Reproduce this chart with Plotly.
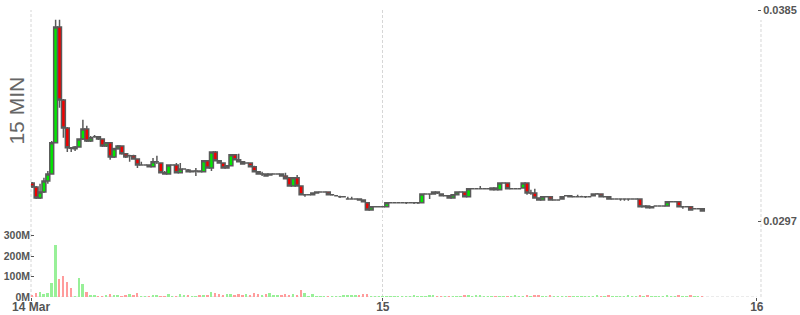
import pandas as pd
import plotly.graph_objects as go

# ---- data (15-minute candles, 14 Mar 01:30 onward) ----
start_time = "2024-03-14 01:30"
n_candles = 173

open_ = [0.03129,0.03112,0.03066,0.03091,0.03137,0.03166,0.03296,0.03779,0.03475,0.03358,
         0.03275,0.03271,0.03279,0.03312,0.03354,0.03304,0.03321,0.03321,0.03312,0.03283,
         0.03296,0.03237,0.03271,0.03283,0.03250,0.03242,0.03242,0.03229,0.03204,0.03204,
         0.03204,0.03196,0.03217,0.03212,0.03171,0.03166,0.03204,0.03204,0.03171,0.03187,
         0.03183,0.03175,0.03179,0.03179,0.03175,0.03221,0.03191,0.03258,0.03221,0.03212,
         0.03191,0.03200,0.03246,0.03225,0.03217,0.03212,0.03212,0.03196,0.03175,0.03166,
         0.03166,0.03162,0.03166,0.03166,0.03166,0.03158,0.03150,0.03116,0.03150,0.03116,
         0.03079,0.03079,0.03079,0.03087,0.03091,0.03091,0.03091,0.03079,0.03075,0.03071,
         0.03071,0.03062,0.03062,0.03062,0.03062,0.03058,0.03046,0.03016,0.03029,0.03029,
         0.03029,0.03029,0.03046,0.03046,0.03046,0.03046,0.03046,0.03046,0.03046,0.03046,
         0.03046,0.03083,0.03083,0.03083,0.03091,0.03083,0.03075,0.03075,0.03066,0.03079,
         0.03091,0.03091,0.03071,0.03104,0.03104,0.03104,0.03104,0.03104,0.03100,0.03108,
         0.03100,0.03129,0.03129,0.03104,0.03104,0.03104,0.03108,0.03129,0.03087,0.03087,
         0.03066,0.03058,0.03071,0.03071,0.03058,0.03058,0.03062,0.03075,0.03075,0.03071,
         0.03071,0.03071,0.03071,0.03071,0.03075,0.03083,0.03083,0.03071,0.03071,0.03062,
         0.03062,0.03062,0.03062,0.03062,0.03062,0.03062,0.03062,0.03029,0.03033,0.03025,
         0.03033,0.03033,0.03033,0.03033,0.03050,0.03050,0.03050,0.03029,0.03029,0.03029,
         0.03021,0.03021,0.03021]
high = [0.03133,0.03116,0.03125,0.03150,0.03179,0.03304,0.03809,0.03809,0.03479,0.03362,
        0.03279,0.03283,0.03312,0.03392,0.03367,0.03325,0.03329,0.03325,0.03312,0.03300,
        0.03296,0.03275,0.03287,0.03283,0.03250,0.03246,0.03246,0.03229,0.03217,0.03204,
        0.03204,0.03233,0.03242,0.03212,0.03179,0.03204,0.03204,0.03212,0.03212,0.03187,
        0.03187,0.03179,0.03191,0.03179,0.03221,0.03221,0.03258,0.03262,0.03221,0.03212,
        0.03204,0.03246,0.03246,0.03250,0.03217,0.03212,0.03212,0.03200,0.03175,0.03175,
        0.03166,0.03166,0.03166,0.03166,0.03166,0.03171,0.03150,0.03150,0.03162,0.03116,
        0.03079,0.03079,0.03087,0.03091,0.03091,0.03091,0.03091,0.03083,0.03075,0.03075,
        0.03071,0.03071,0.03071,0.03062,0.03062,0.03058,0.03046,0.03033,0.03029,0.03029,
        0.03029,0.03046,0.03046,0.03046,0.03046,0.03046,0.03046,0.03046,0.03046,0.03046,
        0.03083,0.03083,0.03083,0.03091,0.03091,0.03083,0.03075,0.03075,0.03079,0.03091,
        0.03091,0.03091,0.03104,0.03104,0.03104,0.03116,0.03104,0.03104,0.03108,0.03108,
        0.03129,0.03129,0.03129,0.03104,0.03108,0.03104,0.03129,0.03129,0.03100,0.03104,
        0.03066,0.03071,0.03071,0.03071,0.03058,0.03058,0.03071,0.03075,0.03075,0.03071,
        0.03079,0.03075,0.03071,0.03071,0.03083,0.03087,0.03083,0.03071,0.03071,0.03062,
        0.03062,0.03062,0.03062,0.03062,0.03062,0.03062,0.03062,0.03033,0.03033,0.03029,
        0.03033,0.03033,0.03033,0.03050,0.03050,0.03050,0.03050,0.03029,0.03029,0.03029,
        0.03021,0.03021,0.03021]
low = [0.03108,0.03062,0.03062,0.03087,0.03125,0.03166,0.03296,0.03442,0.03317,0.03258,
       0.03258,0.03262,0.03275,0.03308,0.03300,0.03300,0.03317,0.03308,0.03279,0.03279,
       0.03225,0.03233,0.03267,0.03246,0.03233,0.03217,0.03225,0.03191,0.03204,0.03204,
       0.03196,0.03196,0.03208,0.03171,0.03166,0.03166,0.03204,0.03171,0.03171,0.03187,
       0.03175,0.03175,0.03158,0.03175,0.03175,0.03191,0.03179,0.03221,0.03212,0.03191,
       0.03191,0.03200,0.03225,0.03217,0.03208,0.03212,0.03196,0.03175,0.03166,0.03158,
       0.03158,0.03162,0.03166,0.03166,0.03158,0.03146,0.03116,0.03116,0.03116,0.03079,
       0.03071,0.03079,0.03079,0.03087,0.03091,0.03091,0.03079,0.03075,0.03075,0.03066,
       0.03071,0.03062,0.03062,0.03062,0.03058,0.03050,0.03016,0.03016,0.03029,0.03029,
       0.03029,0.03029,0.03046,0.03046,0.03046,0.03046,0.03041,0.03046,0.03041,0.03041,
       0.03046,0.03083,0.03062,0.03083,0.03083,0.03075,0.03075,0.03066,0.03066,0.03079,
       0.03091,0.03071,0.03071,0.03104,0.03104,0.03104,0.03104,0.03104,0.03100,0.03100,
       0.03100,0.03129,0.03104,0.03104,0.03104,0.03104,0.03108,0.03079,0.03079,0.03066,
       0.03058,0.03058,0.03071,0.03058,0.03058,0.03058,0.03062,0.03075,0.03071,0.03071,
       0.03071,0.03071,0.03066,0.03071,0.03075,0.03083,0.03071,0.03071,0.03062,0.03062,
       0.03062,0.03054,0.03054,0.03054,0.03062,0.03062,0.03029,0.03029,0.03025,0.03025,
       0.03033,0.03033,0.03033,0.03033,0.03050,0.03050,0.03029,0.03021,0.03029,0.03016,
       0.03021,0.03021,0.03012]
close = [0.03112,0.03066,0.03091,0.03137,0.03166,0.03296,0.03779,0.03475,0.03358,0.03275,
         0.03273,0.03279,0.03312,0.03354,0.03304,0.03317,0.03321,0.03312,0.03283,0.03296,
         0.03237,0.03271,0.03283,0.03250,0.03237,0.03242,0.03229,0.03204,0.03204,0.03204,
         0.03196,0.03217,0.03217,0.03171,0.03166,0.03204,0.03204,0.03171,0.03187,0.03187,
         0.03175,0.03179,0.03179,0.03175,0.03221,0.03191,0.03258,0.03221,0.03212,0.03191,
         0.03200,0.03246,0.03225,0.03217,0.03208,0.03212,0.03196,0.03175,0.03166,0.03166,
         0.03158,0.03166,0.03166,0.03166,0.03158,0.03146,0.03116,0.03150,0.03116,0.03079,
         0.03079,0.03079,0.03087,0.03091,0.03091,0.03091,0.03079,0.03079,0.03075,0.03071,
         0.03071,0.03062,0.03062,0.03062,0.03058,0.03050,0.03016,0.03029,0.03029,0.03029,
         0.03029,0.03046,0.03046,0.03046,0.03046,0.03046,0.03046,0.03046,0.03046,0.03046,
         0.03083,0.03083,0.03083,0.03091,0.03087,0.03075,0.03075,0.03066,0.03079,0.03091,
         0.03091,0.03071,0.03104,0.03104,0.03104,0.03104,0.03104,0.03104,0.03108,0.03100,
         0.03129,0.03129,0.03104,0.03104,0.03104,0.03104,0.03129,0.03087,0.03087,0.03066,
         0.03058,0.03071,0.03071,0.03058,0.03058,0.03058,0.03071,0.03075,0.03071,0.03071,
         0.03071,0.03071,0.03071,0.03071,0.03083,0.03083,0.03071,0.03071,0.03062,0.03062,
         0.03062,0.03062,0.03062,0.03062,0.03062,0.03062,0.03029,0.03033,0.03025,0.03029,
         0.03033,0.03033,0.03033,0.03050,0.03050,0.03050,0.03029,0.03029,0.03029,0.03016,
         0.03021,0.03021,0.03012]
volume_m = [5,20,24,13,20,68,253,86,101,73,44,3,91,62,23,5,6,3,3,5,
            12,8,8,4,8,12,8,17,4,4,4,8,8,4,4,12,4,4,12,8,
            8,4,4,8,8,8,23,18,13,5,13,13,5,13,8,13,9,18,13,8,
            13,18,8,8,8,13,8,13,8,33,18,2,13,2,1,1,2,1,1,2,
            8,8,5,8,5,13,13,3,1,1,4,2,1,1,1,3,1,1,8,4,
            4,4,8,8,4,4,1,1,1,1,1,8,8,1,8,8,4,1,4,4,
            1,1,4,1,8,1,4,8,4,8,8,4,4,8,4,4,4,4,4,4,
            4,4,4,1,4,8,4,3,5,3,2,4,3,5,2,3,6,4,5,4,
            2,4,3,5,3,2,5,3,2,5,3,2,4]

x_tick_vals = ["2024-03-14 01:25:30", "2024-03-15 00:00", "2024-03-16 00:00"]
x_tick_text = ["14 Mar", "15", "16"]
price_tick_vals = [0.0297, 0.0385]
price_tick_text = ["0.0297", "0.0385"]
vol_tick_vals = [0, 100e6, 200e6, 300e6]
vol_tick_text = ["0M", "100M", "200M", "300M"]

assert len(open_) == len(high) == len(low) == len(close) == len(volume_m) == n_candles

times = pd.date_range(start_time, periods=n_candles, freq="15min")
volume = [v * 1e6 for v in volume_m]
vol_colors = ["#98f098" if c >= o else "#ff9c9c" for o, c in zip(open_, close)]

GRID = "#d6d6d6"
DASH = "3px,2px"
FONT = "Liberation Sans"
TXT = "#555555"

fig = go.Figure()
fig.add_trace(go.Candlestick(
    x=times, open=open_, high=high, low=low, close=close,
    increasing=dict(fillcolor="#00e800", line=dict(color="#5a5a5a", width=1.5)),
    decreasing=dict(fillcolor="#f20000", line=dict(color="#5a5a5a", width=1.5)),
    whiskerwidth=0, showlegend=False, hoverinfo="skip", xaxis="x", yaxis="y"))
fig.add_trace(go.Bar(
    x=times, y=volume, marker=dict(color=vol_colors, line=dict(width=0)),
    width=450000, showlegend=False, hoverinfo="skip", xaxis="x", yaxis="y2"))

fig.update_layout(
    width=800, height=315,
    margin=dict(l=31, r=43, t=10, b=18, autoexpand=False),
    paper_bgcolor="white", plot_bgcolor="white",
    boxgap=0, boxgroupgap=0, bargap=0,
    xaxis=dict(
        type="date", range=["2024-03-14 01:25:12", "2024-03-16 00:00:30"],
        rangeslider=dict(visible=False), automargin=False,
        tickmode="array", tickvals=x_tick_vals, ticktext=x_tick_text,
        showgrid=True, gridcolor=GRID, griddash=DASH, gridwidth=1,
        ticks="outside", ticklen=3, tickcolor=TXT, ticklabelstandoff=-4,
        tickfont=dict(family=FONT, size=12, color=TXT, weight="bold"),
        zeroline=False, showline=False, anchor="y2"),
    yaxis=dict(
        domain=[0.2648, 1.0], range=[0.0297, 0.0385], side="right", anchor="x",
        tickmode="array", tickvals=price_tick_vals, ticktext=price_tick_text,
        showgrid=True, gridcolor=GRID, griddash=DASH, gridwidth=1, automargin=False,
        ticks="outside", ticklen=3, tickcolor=TXT,
        tickfont=dict(family=FONT, size=11, color=TXT, weight="bold"),
        zeroline=False, showline=False),
    yaxis2=dict(
        domain=[0.0, 0.254], range=[0, 357e6], side="left", anchor="x",
        tickmode="array", tickvals=vol_tick_vals, ticktext=vol_tick_text,
        showgrid=False, ticks="inside", ticklen=3, tickcolor=TXT, automargin=False,
        tickfont=dict(family=FONT, size=10.5, color=TXT, weight="bold"),
        zeroline=False, showline=False),
    shapes=[
        dict(type="line", xref="paper", yref="y2", x0=0, x1=1, y0=0, y1=0,
             line=dict(color=GRID, width=1, dash=DASH), layer="below"),
        dict(type="line", xref="paper", yref="paper", x0=1.0055, x1=1.0055, y0=0, y1=0.965,
             line=dict(color=GRID, width=1, dash=DASH), layer="below"),
        dict(type="line", xref="paper", yref="paper", x0=0, x1=0, y0=0, y1=1,
             line=dict(color=GRID, width=1, dash=DASH), layer="below"),
    ],
    annotations=[dict(
        text="15 MIN", xref="paper", yref="paper", x=-0.0213, y=0.648,
        xanchor="center", yanchor="middle", textangle=-90, showarrow=False,
        font=dict(family=FONT, size=21, color="#666666"))],
)

fig.write_html("out.html")
